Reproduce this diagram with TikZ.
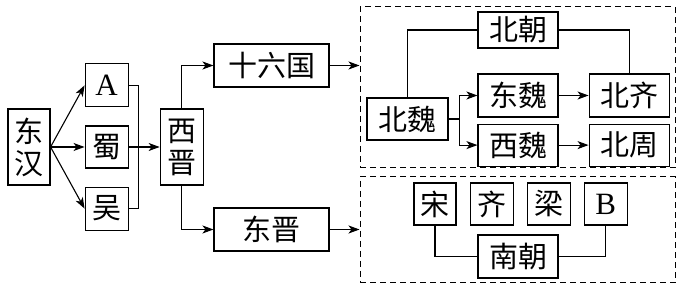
\documentclass[tikz,border=0pt]{standalone}
\usepackage{fontspec}
\setmainfont{Noto Sans CJK SC}
\newfontfamily\latinfont{Liberation Serif}
\usepackage{tikz}
\usetikzlibrary{arrows.meta,positioning}

\begin{document}
\begin{tikzpicture}[x=1pt,y=1pt,node distance=18pt and 13pt,
    every node/.style={font=\fontsize{29}{32}\selectfont,align=center,inner sep=0pt},
    box/.style={draw,line width=1.1pt,minimum width=43pt,minimum height=43pt},
    widebox/.style={box,minimum width=80pt},
    tallbox/.style={box,minimum height=76pt},
    zone/.style={draw,line width=1pt,dash pattern=on 6pt off 4pt},
    arr/.style={-{Stealth[length=11pt,width=8pt,inset=3pt]},line width=1.1pt},
    link/.style={line width=1.1pt}]
    \useasboundingbox[fill=white] (0,0) rectangle (683,288);
    \node[tallbox,minimum width=42pt] (donghan) at (29,141) {东\\汉};
    \node[box,right=34pt of donghan,minimum height=42pt] (shu) {蜀};
    \node[box,above=18pt of shu] (a) {\fontsize{31}{34}\latinfont A};
    \node[box,below=18pt of shu] (wu) {吴};
    \node[tallbox,right=31pt of shu] (xijin) {西\\晋};
    \node[box,minimum width=115pt] (shiliu) at (271.5,222.5) {十六国};
    \node[box,minimum width=115pt] (dongjin) at (271.5,58.5) {东晋};
    \node[zone,minimum width=315pt,minimum height=161pt] (north) at (517.5,200.5) {};
    \node[zone,minimum width=315pt,minimum height=106pt] (south) at (517.5,58) {};
    \node[widebox,minimum height=36pt] (beichao) at (518,258) {北朝};
    \node[widebox,minimum width=81pt,minimum height=42pt] (beiwei) at (407.5,169) {北魏};
    \node[widebox] (dongwei) at (518,192.5) {东魏};
    \node[widebox,below=6pt of dongwei,minimum height=42pt] (xiwei) {西魏};
    \node[widebox,right=30pt of dongwei] (beiqi) {北齐};
    \node[widebox,right=30pt of xiwei,minimum height=42pt] (beizhou) {北周};
    \node[box,minimum width=42pt,minimum height=42pt] (song) at (435,84) {宋};
    \node[box,right=of song,minimum height=42pt] (qi) {齐};
    \node[box,right=of qi,minimum height=42pt] (liang) {梁};
    \node[box,right=of liang,minimum height=42pt] (b) {\fontsize{31}{34}\latinfont B};
    \node[widebox] (nanchao) at (518,31.5) {南朝};
    \foreach \k in {a,shu,wu}{\draw[arr] (donghan.east) -- (\k.west);}
    \draw[link] (a.east) -- ++(10,0) |- (wu.east);
    \draw[arr] (shu.east) -- (xijin.west);
    \draw[arr] (xijin.north) |- (shiliu.west);
    \draw[arr] (xijin.south) |- (dongjin.west);
    \draw[arr] (shiliu.east) -- (shiliu.east -| north.west);
    \draw[arr] (dongjin.east) -- (dongjin.east -| south.west);
    \draw[link] (beiwei.north) |- (beichao.west);
    \draw[link] (beichao.east) -| (beiqi.north);
    \draw[link] (beiwei.east) -- ++(11,0) coordinate (fork);
    \foreach \k in {dongwei,xiwei}{\draw[arr] (fork) |- (\k.west);}
    \draw[arr] (dongwei) -- (beiqi);
    \draw[arr] (xiwei) -- (beizhou);
    \draw[link] (song.south) |- (nanchao.west);
    \draw[link] (b.south) |- (nanchao.east);
  \end{tikzpicture}
\end{document}
